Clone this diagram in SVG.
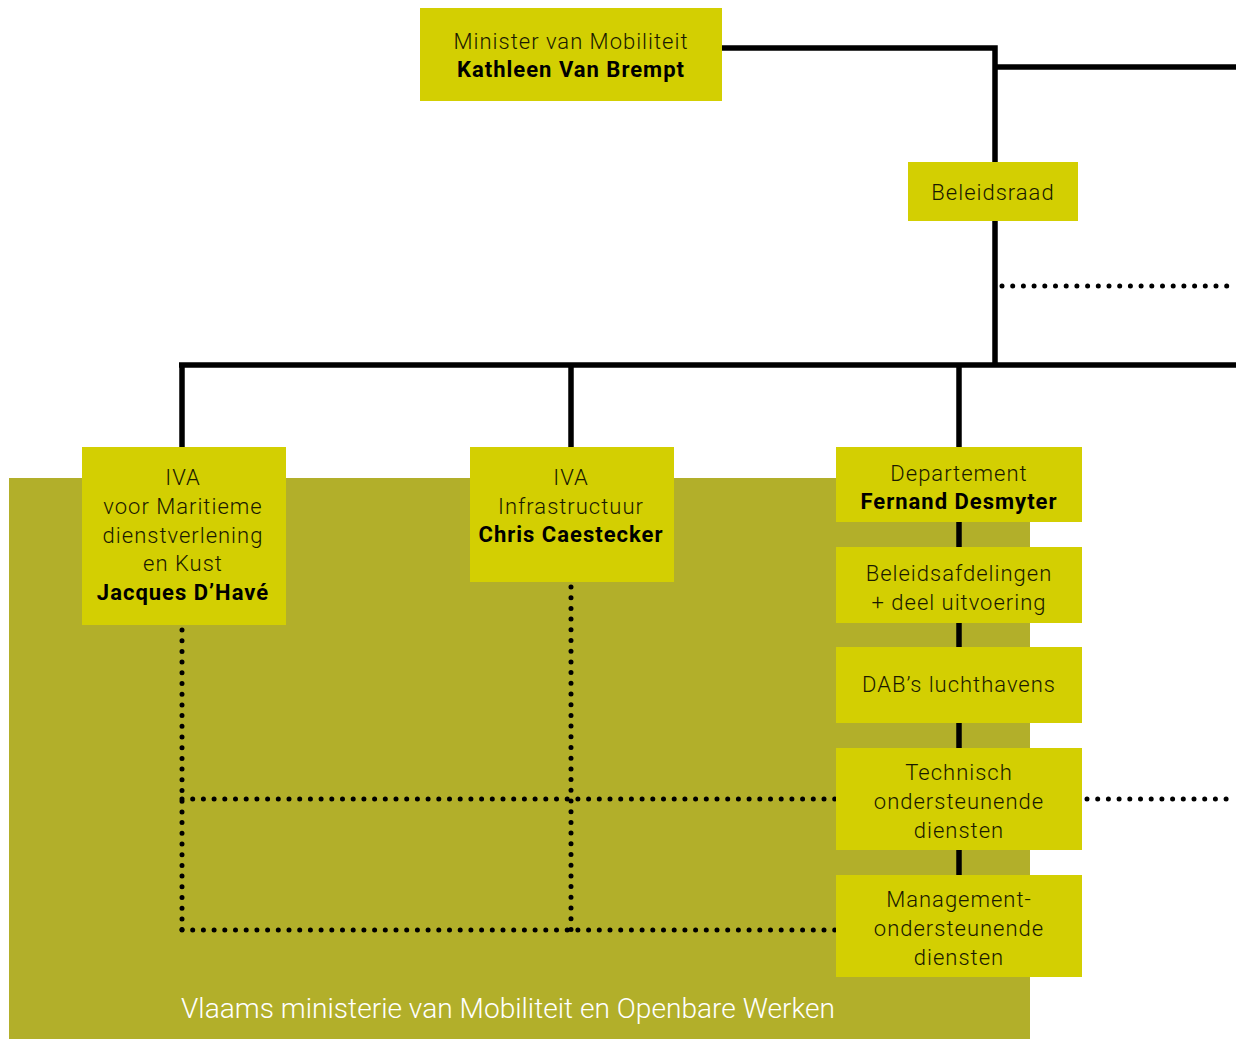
<svg xmlns="http://www.w3.org/2000/svg" width="1236" height="1039" viewBox="0 0 1236 1039">
<style>
.box{fill:#d3cf02}
.t{font-family:Roboto,"Liberation Sans",sans-serif;font-size:22px;font-weight:300;fill:#1a1a00;text-anchor:middle;letter-spacing:1px}
.b{font-weight:700;fill:#000}
.solid{stroke:#000;stroke-width:5.5;fill:none}
.dot{stroke:#000;stroke-width:5;fill:none;stroke-linecap:round;stroke-dasharray:0 10.7}
</style>
<rect x="0" y="0" width="1236" height="1039" fill="#fff"/>
<g id="ministerie">
<rect x="9" y="478" width="1021" height="561" fill="#b2af2a"/>
<text x="508" y="1018" font-family="Roboto,'Liberation Sans',sans-serif" font-size="27" font-weight="300" fill="#fff" text-anchor="middle" textLength="654" lengthAdjust="spacingAndGlyphs">Vlaams ministerie van Mobiliteit en Openbare Werken</text>
</g>
<g id="connectors">
<polyline class="solid" points="722,48 995,48 995,365"/>
<line class="solid" x1="995" y1="67" x2="1236" y2="67"/>
<line class="solid" x1="179" y1="365" x2="1236" y2="365"/>
<line class="solid" x1="182" y1="365" x2="182" y2="447"/>
<line class="solid" x1="571" y1="365" x2="571" y2="447"/>
<line class="solid" x1="959" y1="365" x2="959" y2="977"/>
<line class="dot" x1="1002" y1="286" x2="1236" y2="286"/>
<line class="dot" x1="182" y1="630" x2="182" y2="930"/>
<line class="dot" x1="571" y1="587" x2="571" y2="930"/>
<line class="dot" x1="182" y1="799" x2="836" y2="799"/>
<line class="dot" x1="182" y1="930" x2="836" y2="930"/>
<line class="dot" x1="1087" y1="799" x2="1236" y2="799"/>
</g>
<g id="minister">
<rect class="box" x="420" y="8" width="302" height="93"/>
<text class="t" x="571" y="49">Minister van Mobiliteit</text>
<text class="t b" x="571" y="77">Kathleen Van Brempt</text>
</g>
<g id="beleidsraad">
<rect class="box" x="908" y="162" width="170" height="59"/>
<text class="t" x="993" y="200">Beleidsraad</text>
</g>
<g id="iva-maritiem">
<rect class="box" x="82" y="447" width="204" height="178"/>
<text class="t" x="183" y="485">IVA</text>
<text class="t" x="183" y="514">voor Maritieme</text>
<text class="t" x="183" y="543">dienstverlening</text>
<text class="t" x="183" y="571">en Kust</text>
<text class="t b" x="183" y="600">Jacques D’Havé</text>
</g>
<g id="iva-infra">
<rect class="box" x="470" y="447" width="204" height="135"/>
<text class="t" x="571" y="485">IVA</text>
<text class="t" x="571" y="514">Infrastructuur</text>
<text class="t b" x="571" y="542">Chris Caestecker</text>
</g>
<g id="departement">
<rect class="box" x="836" y="447" width="246" height="75"/>
<text class="t" x="959" y="481">Departement</text>
<text class="t b" x="959" y="509">Fernand Desmyter</text>
</g>
<g id="beleidsafdelingen">
<rect class="box" x="836" y="547" width="246" height="76"/>
<text class="t" x="959" y="581">Beleidsafdelingen</text>
<text class="t" x="959" y="610">+ deel uitvoering</text>
</g>
<g id="dab">
<rect class="box" x="836" y="647" width="246" height="76"/>
<text class="t" x="959" y="692">DAB’s luchthavens</text>
</g>
<g id="technisch">
<rect class="box" x="836" y="748" width="246" height="102"/>
<text class="t" x="959" y="780">Technisch</text>
<text class="t" x="959" y="809">ondersteunende</text>
<text class="t" x="959" y="838">diensten</text>
</g>
<g id="management">
<rect class="box" x="836" y="875" width="246" height="102"/>
<text class="t" x="959" y="907">Management-</text>
<text class="t" x="959" y="936">ondersteunende</text>
<text class="t" x="959" y="965">diensten</text>
</g>
</svg>
